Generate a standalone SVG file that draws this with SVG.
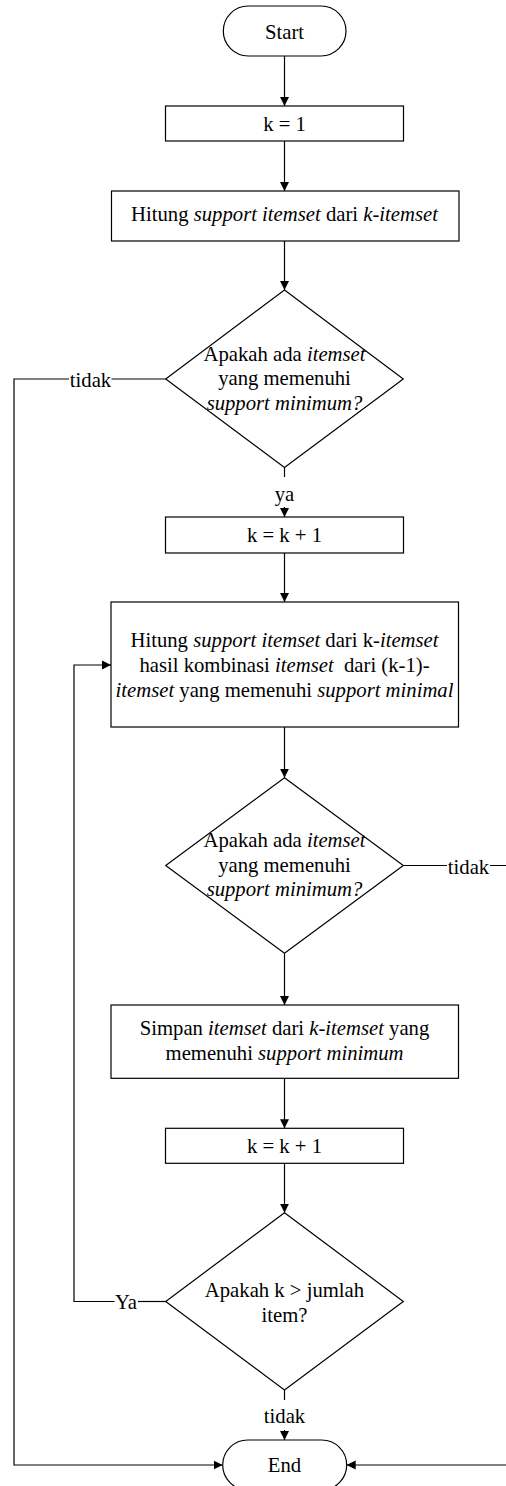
<svg xmlns="http://www.w3.org/2000/svg" width="506" height="1486" viewBox="0 0 506 1486">
<style>
.shape{fill:#ffffff;stroke:#000000;stroke-width:1.2}
.t{font-family:"Liberation Serif","Times New Roman",serif;font-size:20.7px;fill:#000000;text-anchor:middle}
.i{font-style:italic}
.c{fill:none;stroke:#000000;stroke-width:1.2}
</style>
<defs>
<marker id="ah" viewBox="0 0 10 10" refX="10" refY="5" markerWidth="9" markerHeight="10" markerUnits="userSpaceOnUse" orient="auto">
<path d="M0,0 L10,5 L0,10 z" fill="#000000"/>
</marker>
</defs>
<rect width="506" height="1486" fill="#ffffff"/>
<g id="connectors">
<path class="c" d="M284.5,56 L284.5,106" marker-end="url(#ah)"/>
<path class="c" d="M284.5,141 L284.5,191" marker-end="url(#ah)"/>
<path class="c" d="M284.5,241 L284.5,290" marker-end="url(#ah)"/>
<path class="c" d="M284.5,467.5 L284.5,477"/>
<path class="c" d="M284.5,507 L284.5,517" marker-end="url(#ah)"/>
<path class="c" d="M284.5,553 L284.5,602" marker-end="url(#ah)"/>
<path class="c" d="M284.5,727 L284.5,777.7" marker-end="url(#ah)"/>
<path class="c" d="M284.5,953.3 L284.5,1005" marker-end="url(#ah)"/>
<path class="c" d="M284.5,1078.3 L284.5,1128.3" marker-end="url(#ah)"/>
<path class="c" d="M284.5,1163.3 L284.5,1212.7" marker-end="url(#ah)"/>
<path class="c" d="M284.5,1390 L284.5,1400"/>
<path class="c" d="M284.5,1430 L284.5,1440" marker-end="url(#ah)"/>
<path class="c" d="M165.7,379 L111.5,379"/>
<path class="c" d="M69,379 L14,379 L14,1465 L222.7,1465" marker-end="url(#ah)"/>
<path class="c" d="M403.3,865.5 L447,865.5"/>
<path class="c" d="M490,865.5 L512,865.5 L512,1465 L346.7,1465" marker-end="url(#ah)"/>
<path class="c" d="M166,1301.5 L138,1301.5"/>
<path class="c" d="M114.5,1301.5 L74,1301.5 L74,665 L111,665" marker-end="url(#ah)"/>
<text class="t" x="90.5" y="386.5">tidak</text>
<text class="t" x="468.5" y="874">tidak</text>
<text class="t" x="284.5" y="500.5">ya</text>
<text class="t" x="126" y="1309">Ya</text>
<text class="t" x="284.5" y="1422.5">tidak</text>
</g>
<g id="start">
<rect class="shape" x="223.3" y="6" width="122.7" height="50" rx="25" ry="25"/>
<text class="t" x="284.5" y="38.5">Start</text>
</g>
<g id="k1">
<rect class="shape" x="165.5" y="106" width="238" height="35"/>
<text class="t" x="284.5" y="130.5">k = 1</text>
</g>
<g id="hitung1">
<rect class="shape" x="111.5" y="191" width="347.5" height="50"/>
<text class="t" x="284.5" y="220.5">Hitung <tspan class="i">support itemset</tspan> dari <tspan class="i">k-itemset</tspan></text>
</g>
<g id="decision1">
<polygon class="shape" points="284.5,290 403.3,379 284.5,467.5 165.7,379"/>
<text class="t" x="284.5" y="360.5">Apakah ada <tspan class="i">itemset</tspan></text>
<text class="t" x="284.5" y="385">yang memenuhi</text>
<text class="t i" x="284.5" y="409.5">support minimum?</text>
</g>
<g id="kinc1">
<rect class="shape" x="165.5" y="517" width="238" height="36"/>
<text class="t" x="284.5" y="541.5">k = k + 1</text>
</g>
<g id="hitung2">
<rect class="shape" x="111" y="602" width="347.5" height="125"/>
<text class="t" x="284.5" y="646.5">Hitung <tspan class="i">support itemset</tspan> dari k-<tspan class="i">itemset</tspan></text>
<text class="t" x="284.5" y="671.5" xml:space="preserve">hasil kombinasi <tspan class="i">itemset</tspan>  dari (k-1)-</text>
<text class="t" x="284.5" y="696.5"><tspan class="i">itemset</tspan> yang memenuhi <tspan class="i">support minimal</tspan></text>
</g>
<g id="decision2">
<polygon class="shape" points="284.5,777.7 403.3,865.5 284.5,953.3 165.7,865.5"/>
<text class="t" x="284.5" y="847">Apakah ada <tspan class="i">itemset</tspan></text>
<text class="t" x="284.5" y="871.5">yang memenuhi</text>
<text class="t i" x="284.5" y="896">support minimum?</text>
</g>
<g id="simpan">
<rect class="shape" x="111" y="1005" width="347.5" height="73.3"/>
<text class="t" x="284.5" y="1035">Simpan <tspan class="i">itemset</tspan> dari <tspan class="i">k-itemset</tspan> yang</text>
<text class="t" x="284.5" y="1060">memenuhi <tspan class="i">support minimum</tspan></text>
</g>
<g id="kinc2">
<rect class="shape" x="165.5" y="1128.3" width="238" height="35"/>
<text class="t" x="284.5" y="1152.7">k = k + 1</text>
</g>
<g id="decision3">
<polygon class="shape" points="284.5,1212.7 403.3,1301.5 284.5,1390 165.7,1301.5"/>
<text class="t" x="284.5" y="1297.3">Apakah k &gt; jumlah</text>
<text class="t" x="284.5" y="1321.7">item?</text>
</g>
<g id="end">
<rect class="shape" x="222.7" y="1440" width="124" height="50" rx="25" ry="25"/>
<text class="t" x="284.5" y="1472">End</text>
</g>
</svg>
